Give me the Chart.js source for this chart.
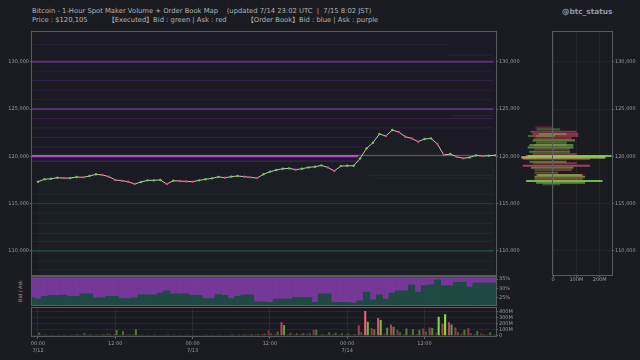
<!DOCTYPE html>
<html>
<head>
<meta charset="utf-8">
<script src="https://cdn.jsdelivr.net/npm/chart.js@4.4.1/dist/chart.umd.min.js"></script>
<style>
  body { margin: 0; width: 640px; height: 360px; overflow: hidden; position: relative;
         background: #1b1c21; font-family: 'DejaVu Sans', 'Noto Sans CJK JP', sans-serif; }
  canvas { position: absolute; }
  .txt { position: absolute; color: #b2b2b2; font-size: 6.8px; white-space: pre; line-height: 1; }
  .side { position: absolute; color: #9a9a9a; font-size: 5px; white-space: pre; transform: rotate(-90deg); transform-origin: center; }
</style>
</head>
<body>
<div class="txt" style="left:32px; top:8px">Bitcoin - 1-Hour Spot Maker Volume + Order Book Map    (updated 7/14 23:02 UTC  |  7/15 8:02 JST)</div>
<div class="txt" style="left:32px; top:17px">Price : $120,105</div>
<div class="txt" style="left:108px; top:17px">【Executed】Bid : green | Ask : red</div>
<div class="txt" style="left:247px; top:17px">【Order Book】Bid : blue | Ask : purple</div>
<div class="txt" style="left:562px; top:8px; font-weight:bold; color:#8e98ad; font-size:7.4px">@btc_status</div>
<div class="side" style="left:8px; top:288px; width:24px; text-align:center">Bid / Ask</div>

<canvas id="depth" width="125" height="262" style="left:515px; top:28px"></canvas>
<canvas id="main" width="530" height="252" style="left:0; top:28px"></canvas>
<canvas id="ratio" width="530" height="38" style="left:0; top:272px"></canvas>
<canvas id="volume" width="530" height="56" style="left:0; top:304px"></canvas>

<script>
// hourly close, 7/12 00:00 .. 7/14 23:00 UTC
var prices = [117315, 117570, 117630, 117740, 117700, 117700, 117810, 117780, 117920, 118100,
              118030, 117850, 117500, 117420, 117320, 117070, 117290, 117460, 117460, 117500,
              117070, 117420, 117390, 117350, 117320, 117460, 117570, 117670, 117830, 117740,
              117850, 117920, 117850, 117780, 117700, 118100, 118370, 118550, 118690, 118730,
              118590, 118690, 118830, 118900, 119040, 118830, 118450, 118970, 119000, 119000,
              119780, 120840, 121440, 122360, 122150, 122780, 122570, 122080, 121900, 121550,
              121830, 121900, 121300, 120140, 120240, 119960, 119790, 119890, 120100, 120030,
              120070, 120105]

// executed maker volume per hour (M USD)
var askVol = [10, 15, 12, 10, 14, 12, 20, 15, 18, 15, 20, 40, 30, 25, 20, 25, 15, 12, 15, 12,
              18, 15, 12, 15, 12, 10, 15, 12, 15, 12, 20, 15, 18, 20, 25, 30, 90, 30, 225, 25,
              30, 30, 35, 100, 20, 25, 30, 25, 20, 20, 170, 416, 130, 300, 40, 190, 100, 30, 25, 30,
              120, 140, 50, 200, 225, 140, 40, 130, 30, 40, 20, 15]
var bidVol = [55, 20, 15, 20, 15, 18, 25, 45, 25, 20, 30, 25, 96, 80, 25, 107, 20, 15, 20, 15,
              20, 18, 15, 20, 15, 12, 20, 15, 20, 15, 25, 20, 25, 30, 30, 35, 40, 70, 180, 50,
              40, 45, 40, 100, 30, 60, 50, 40, 35, 30, 60, 236, 110, 265, 135, 150, 60, 120, 110, 100,
              70, 130, 320, 360, 190, 60, 100, 40, 80, 25, 60, 30]

// bid share of the book (%), first value is 7/11 23:00
var bidRatio = [25.0, 24.4, 25.8, 26.3, 26.3, 26.5, 25.8, 25.8, 27.2, 27.2, 25.0,
                25.0, 25.8, 25.8, 24.6, 24.6, 25.0, 26.6, 26.6, 26.6, 27.5,
                28.7, 27.2, 27.2, 27.2, 26.3, 26.3, 24.6, 24.6, 26.9, 26.3,
                24.6, 25.8, 26.6, 26.6, 22.9, 22.9, 22.7, 24.4, 24.4, 24.4,
                25.3, 25.3, 25.3, 22.6, 27.2, 27.2, 22.6, 22.6, 22.6, 22.3,
                23.5, 28.1, 24.0, 26.6, 24.4, 27.5, 28.7, 28.7, 31.9, 28.1,
                31.5, 31.9, 34.5, 31.5, 31.5, 33.3, 33.3, 30.7, 32.8, 32.8,
                32.8, 32.8]
var ratioFirstHour = -1

// order book walls: price, first hour, last hour, size (M USD)
var askPrice = [131800, 130700, 130000, 129000, 128000, 127000, 126000, 125000, 124300, 124000, 123000, 122000, 121000, 120000, 119500]
var askFrom  = [-1, 63.7, -1, -1, -1, -1, -1, -1, 64, -1, -1, -1, -1, -1, -1]
var askTo    = [63.7, 70.7, 70.7, 70.7, 70.7, 70.7, 70.7, 70.7, 70.7, 70.7, 70.7, 53, 50.5, 49.7, 50]
var askSize  = [14, 10, 60, 10, 16, 8, 8, 58, 10, 20, 14, 16, 16, 85, 32]

var bidPrice = [118000, 117700, 116000, 115000, 114000, 112900, 111850, 111000, 110000, 108900, 108000]
var bidFrom  = [51, 52, -1, -1, -1, -1, -1, -1, -1, -1, -1]
var bidTo    = [70.7, 70.7, 70.7, 70.7, 70.7, 70.7, 70.7, 70.7, 70.7, 70.7, 70.7]
var bidSize  = [12, 8, 8, 16, 8, 8, 8, 8, 26, 6, 6]

// executed volume profile by price (M USD, drawn from..to)
var profBidPrice = [122860, 122360, 122150, 121690, 121440, 121200, 120950, 120490, 120030, 119890, 119430, 118800, 118270, 118020, 117840, 117390, 117210, 117040]
var profBidFrom  = [-69, -60, -107, -86, -71, -100, -107, -100, -107, -135, -100, -93, -78, -65, -78, -114, -71, -43]
var profBidTo    = [29, 57, 7, 93, 57, 86, 86, 71, 250, 221, 57, 86, 21, 121, 136, 211, 136, 29]
var profAskPrice = [123070, 122600, 122360, 122150, 121900, 121200, 120740, 120240, 120030, 119890, 119750, 119260, 119010, 118550, 118020, 117600]
var profAskFrom  = [-74, -95, -86, -71, -78, -78, -78, -86, -114, -130, -128, -86, -128, -78, -71, -78]
var profAskTo    = [0, 100, 107, 107, 79, 57, 71, 100, 228, 225, 157, 100, 157, 79, 128, 128]

var priceTicks = [110000, 115000, 120000, 125000, 130000]
var ratioTicks = [25, 30, 35]
var volTicks = [0, 100, 200, 300, 400]
var profTicks = [0, 100, 200]
var timeTicks = [0, 12, 24, 36, 48, 60]
var dayLabels = {0: '7/12', 24: '7/13', 48: '7/14'}

var X_MIN = -0.93, X_MAX = 71.1
var Y_MIN = 107450, Y_MAX = 133150

Chart.defaults.font.family = 'DejaVu Sans'
Chart.defaults.font.size = 5
Chart.defaults.color = '#9a9a9a'
Chart.defaults.animation = false
Chart.defaults.responsive = false
Chart.defaults.plugins.legend.display = false
Chart.defaults.plugins.tooltip.enabled = false

// plot background + thin frame around each panel
Chart.register({
    id: 'panel',
    beforeDraw: function (chart, args, opts) {
        if (!opts.bg) return
        var a = chart.chartArea, ctx = chart.ctx
        ctx.save()
        ctx.fillStyle = opts.bg
        ctx.fillRect(a.left, a.top, a.right - a.left, a.bottom - a.top)
        ctx.restore()
    },
    afterDraw: function (chart, args, opts) {
        var a = chart.chartArea, ctx = chart.ctx
        ctx.save()
        ctx.strokeStyle = '#5a5b61'
        ctx.lineWidth = 1
        ctx.strokeRect(Math.round(a.left) - 0.5, Math.round(a.top) - 0.5,
                       Math.round(a.right - a.left) + 1, Math.round(a.bottom - a.top) + 1)
        ctx.restore()
    }
})

function fixWidth(w) { return function (s) { s.width = w } }
function fixHeight(h) { return function (s) { s.height = h } }
function setTicks(list) { return function (s) { s.ticks = list.map(function (v) { return {value: v} }) } }

function mix(a, b, t) {
    return 'rgb(' + a.map(function (c, i) { return Math.round(c + (b[i] - c) * t) }).join(',') + ')'
}

// ---------- main price panel ----------
var datasets = []
datasets.push({
    data: prices.map(function (p, i) { return {x: i, y: p} }),
    borderColor: '#c4c4c4',
    borderWidth: 1,
    pointRadius: 1.2,
    pointBorderWidth: 0,
    pointBackgroundColor: prices.map(function (p, i) { return i > 0 && p < prices[i - 1] ? '#d94a68' : '#72c848' }),
    fill: {target: 'start', above: 'rgba(35,80,72,0.10)'},
    order: 0
})
datasets.push({
    data: prices.map(function (p, i) { return {x: i, y: p} }),
    borderWidth: 0,
    pointRadius: 0,
    fill: {target: 'end', below: 'rgba(80,45,120,0.05)'},
    order: 1
})
// current price line
datasets.push({
    data: [{x: -1, y: prices[prices.length - 1]}, {x: 71.1, y: prices[prices.length - 1]}],
    borderColor: 'rgba(175,170,90,0.55)',
    borderWidth: 1,
    pointRadius: 0,
    order: 2
})
for (var i = 0; i < askPrice.length; i++) {
    var big = askSize[i] > 70
    datasets.push({
        data: [{x: askFrom[i], y: askPrice[i]}, {x: askTo[i], y: askPrice[i]}],
        borderColor: big ? 'rgba(190,72,220,0.92)' : 'rgba(140,65,185,' + Math.min(0.9, 0.04 + askSize[i] * 0.0088).toFixed(3) + ')',
        borderWidth: askSize[i] > 40 ? 2 : 1.2,
        pointRadius: 0,
        order: 5
    })
}
for (var j = 0; j < bidPrice.length; j++) {
    datasets.push({
        data: [{x: bidFrom[j], y: bidPrice[j]}, {x: bidTo[j], y: bidPrice[j]}],
        borderColor: 'rgba(45,110,100,' + Math.min(0.8, bidSize[j] * 0.017).toFixed(3) + ')',
        borderWidth: bidSize[j] > 20 ? 1.6 : 1.2,
        pointRadius: 0,
        order: 5
    })
}

var priceTickOpts = {
    color: '#9a9a9a', padding: 1, autoSkip: false,
    callback: function (v) { return v.toLocaleString('en-US') }
}

new Chart(document.getElementById('main'), {
    type: 'line',
    data: {datasets: datasets},
    options: {
        layout: {padding: {top: 4, bottom: 5}},
        plugins: {panel: {bg: '#1a1a21'}, filler: {drawTime: 'beforeDatasetsDraw'}},
        scales: {
            x: {type: 'linear', min: X_MIN, max: X_MAX, display: false},
            y: {
                type: 'linear', position: 'left', min: Y_MIN, max: Y_MAX,
                afterFit: fixWidth(32), afterBuildTicks: setTicks(priceTicks),
                ticks: priceTickOpts,
                grid: {color: 'rgba(255,255,255,0.03)', tickColor: '#6a6a6a', tickLength: 2},
                border: {display: false}
            },
            y2: {
                type: 'linear', position: 'right', min: Y_MIN, max: Y_MAX,
                afterFit: fixWidth(34), afterBuildTicks: setTicks(priceTicks),
                ticks: priceTickOpts,
                grid: {drawOnChartArea: false, tickColor: '#6a6a6a', tickLength: 2},
                border: {display: false}
            }
        }
    }
})

// ---------- volume profile panel ----------
function profColor(rgb, from, to) {
    return from.map(function (f, k) {
        var a = Math.min(0.85, 0.15 + (to[k] - f) / 450)
        return 'rgba(' + rgb + ',' + a.toFixed(2) + ')'
    })
}

new Chart(document.getElementById('depth'), {
    type: 'bar',
    data: {
        datasets: [
            {
                data: profBidPrice.map(function (p, k) { return {y: p, x: [profBidFrom[k], profBidTo[k]]} }),
                backgroundColor: profColor('130,210,70', profBidFrom, profBidTo),
                barThickness: 1.4, clip: false, grouped: false
            },
            {
                data: profAskPrice.map(function (p, k) { return {y: p, x: [profAskFrom[k], profAskTo[k]]} }),
                backgroundColor: profColor('215,70,100', profAskFrom, profAskTo),
                barThickness: 1.4, clip: false, grouped: false
            }
        ]
    },
    options: {
        indexAxis: 'y',
        layout: {padding: {left: 38, top: 4, bottom: 5}},
        plugins: {panel: {}},
        scales: {
            x: {
                type: 'linear', min: 0, max: 253,
                afterFit: fixHeight(10), afterBuildTicks: setTicks(profTicks),
                ticks: {padding: 0, autoSkip: false, maxRotation: 0, callback: function (v) { return v === 0 ? '0' : v + 'M' }},
                grid: {color: 'rgba(255,255,255,0.05)', tickColor: '#6a6a6a', tickLength: 2},
                border: {display: false}
            },
            y: {
                type: 'linear', min: Y_MIN, max: Y_MAX, offset: false, display: false
            },
            yl: {
                type: 'linear', position: 'right', min: Y_MIN, max: Y_MAX, offset: false,
                afterFit: fixWidth(28), afterBuildTicks: setTicks(priceTicks),
                ticks: priceTickOpts,
                grid: {color: 'rgba(255,255,255,0.035)', tickColor: '#6a6a6a', tickLength: 2, offset: false},
                border: {display: false}
            }
        }
    }
})

// ---------- bid / ask ratio panel ----------
new Chart(document.getElementById('ratio'), {
    type: 'bar',
    data: {
        datasets: [
            {
                data: bidRatio.map(function (v, k) { return {x: k + ratioFirstHour, y: v} }),
                backgroundColor: '#1f4a44', grouped: false,
                barPercentage: 1, categoryPercentage: 1
            },
            {
                data: bidRatio.map(function (v, k) { return {x: k + ratioFirstHour, y: [v, 100]} }),
                backgroundColor: '#743896', grouped: false,
                barPercentage: 1, categoryPercentage: 1
            }
        ]
    },
    options: {
        layout: {padding: {left: 32, top: 5.3, bottom: 4.3}},
        plugins: {panel: {bg: '#1a1a21'}},
        scales: {
            x: {type: 'linear', min: X_MIN, max: X_MAX, display: false, offset: false},
            y: {
                type: 'linear', position: 'right', min: 20.9, max: 35.9,
                afterFit: fixWidth(34), afterBuildTicks: setTicks(ratioTicks),
                ticks: {padding: 1, autoSkip: false, callback: function (v) { return v + '%' }},
                grid: {drawOnChartArea: false, tickColor: '#6a6a6a', tickLength: 2},
                border: {display: false}
            }
        }
    }
})

// ---------- executed volume panel ----------
var darkRed = [95, 38, 52], brightRed = [255, 90, 125]
var darkGreen = [45, 80, 42], brightGreen = [130, 228, 72]

new Chart(document.getElementById('volume'), {
    type: 'bar',
    data: {
        datasets: [
            {
                data: askVol.map(function (v, k) { return {x: k, y: v} }),
                backgroundColor: askVol.map(function (v) { return mix(darkRed, brightRed, Math.min(1, v / 380)) }),
                categoryPercentage: 0.8, barPercentage: 0.8
            },
            {
                data: bidVol.map(function (v, k) { return {x: k, y: v} }),
                backgroundColor: bidVol.map(function (v) { return mix(darkGreen, brightGreen, Math.min(1, v / 340)) }),
                categoryPercentage: 0.8, barPercentage: 0.8
            }
        ]
    },
    options: {
        layout: {padding: {left: 32, top: 4.3}},
        plugins: {panel: {bg: '#1a1a21'}},
        scales: {
            x: {
                type: 'linear', min: X_MIN, max: X_MAX, offset: false,
                afterFit: fixHeight(23.3), afterBuildTicks: setTicks(timeTicks),
                ticks: {
                    padding: 1, maxRotation: 0, autoSkip: false, font: {size: 5, lineHeight: 1.45},
                    callback: function (v) {
                        var hh = (v % 24 === 0) ? '00:00' : '12:00'
                        return dayLabels[v] ? [hh, dayLabels[v]] : hh
                    }
                },
                grid: {color: 'rgba(255,255,255,0.06)', tickColor: '#6a6a6a', tickLength: 2, offset: false},
                border: {display: false}
            },
            y: {
                type: 'linear', position: 'right', min: -17, max: 462,
                afterFit: fixWidth(34), afterBuildTicks: setTicks(volTicks),
                ticks: {padding: 1, autoSkip: false, callback: function (v) { return v === 0 ? '0' : v + 'M' }},
                grid: {color: 'rgba(255,255,255,0.05)', tickColor: '#6a6a6a', tickLength: 2},
                border: {display: false}
            }
        }
    }
})
</script>
</body>
</html>
